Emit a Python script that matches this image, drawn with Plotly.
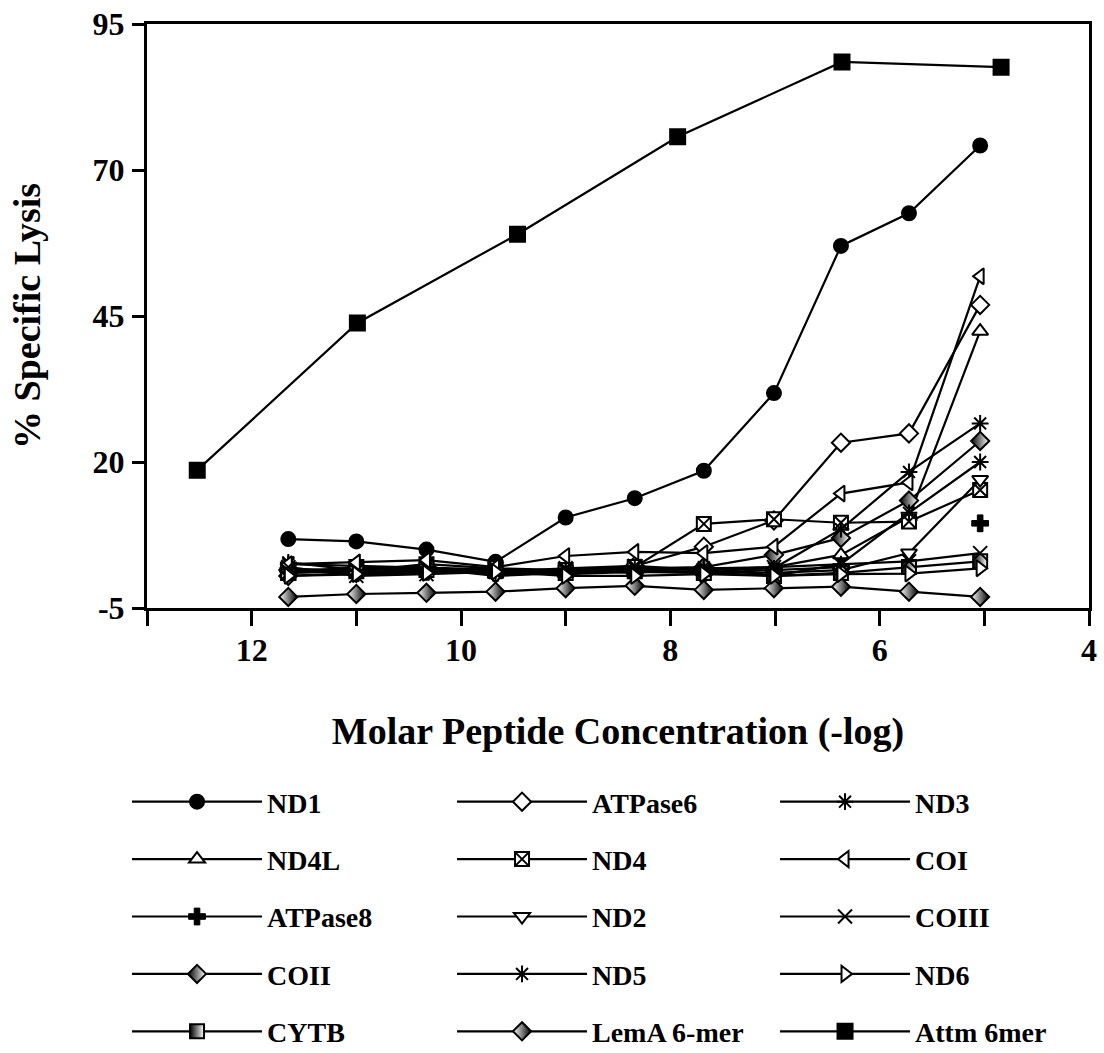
import plotly.graph_objects as go

# concentrations (-log M)
conc = [11.65, 11.0, 10.33, 9.67, 9.0, 8.34, 7.68, 7.01, 6.37, 5.72, 5.04]
conc_attm = [12.52, 10.99, 9.46, 7.93, 6.36, 4.84]

nd1     = [6.8, 6.4, 5.0, 2.9, 10.5, 13.8, 18.5, 31.8, 57.0, 62.6, 74.2]
atpase6 = [1.5, 1.8, 2.0, 1.0, 1.2, 2.2, 5.5, 10.0, 23.3, 24.9, 46.9]
nd3     = [2.5, 2.2, 1.8, 1.5, 1.3, 1.8, 1.5, 1.8, 8.5, 18.3, 26.6]
nd4l    = [1.8, 1.2, 1.5, 0.8, 1.0, 1.5, 1.8, 2.0, 4.1, 10.6, 42.4]
nd4     = [1.0, 1.3, 2.5, 1.8, 1.5, 2.0, 9.4, 10.2, 9.6, 9.8, 15.2]
coi     = [2.5, 2.8, 3.2, 2.0, 3.9, 4.6, 4.4, 5.5, 14.6, 16.5, 51.8]
atpase8 = [1.5, 1.0, 1.2, 1.0, 0.8, 1.2, 1.0, 1.5, 2.0, None, 9.5]
nd2     = [1.0, 1.5, 1.8, 0.5, 1.0, 1.5, 1.2, 1.0, 1.5, 4.4, 17.0]
coiii   = [2.0, 0.5, 0.8, 1.2, 1.8, 2.2, 1.5, 2.0, 2.5, 3.0, 4.4]
coii    = [0.5, 1.0, 1.5, 1.3, 0.8, 1.8, 2.0, 4.1, 7.0, 13.4, 23.6]
nd5     = [2.8, 1.5, 2.0, 1.0, 1.5, 1.0, 2.0, 0.5, 2.5, 11.3, 20.0]
nd6     = [0.5, 0.8, 1.0, 1.2, 0.5, 0.5, 0.8, 0.5, 0.8, 0.9, 1.8]
cytb    = [1.0, 2.0, 1.5, 1.5, 1.0, 1.3, 1.0, 0.5, 1.0, 2.0, 3.0]
lema    = [-3.1, -2.6, -2.4, -2.2, -1.6, -1.2, -1.9, -1.6, -1.35, -2.2, -3.1]
attm    = [18.6, 43.8, 59.0, 75.7, 88.5, 87.6]

x_ticks = [13, 12, 11, 10, 9, 8, 7, 6, 5, 4]
x_ticktext = ["", "12", "", "10", "", "8", "", "6", "", "4"]
y_ticks = [-5, 20, 45, 70, 95]
y_ticktext = ["-5", "20", "45", "70", "95"]

FONT = "Liberation Serif"
BLACK = "#000000"

fig = go.Figure()

def add(name, x, y, symbol, color, legend, size=14, lw=2, gradient=None):
    marker = dict(symbol=symbol, size=size, color=color,
                  line=dict(color=BLACK, width=lw))
    if gradient:
        marker["gradient"] = gradient
    fig.add_trace(go.Scatter(
        x=x, y=y, name=name, mode="lines+markers",
        line=dict(color=BLACK, width=2.2),
        marker=marker, legend=legend, legendgroup=name,
        connectgaps=False,
    ))

# column 1
add("ND1", conc, nd1, "circle", BLACK, "legend")
add("ND4L", conc, nd4l, "triangle-up", "white", "legend")
add("ATPase8", conc, atpase8, "cross", BLACK, "legend", lw=1)
add("COII", conc, coii, "diamond", BLACK, "legend",
    gradient=dict(type="horizontal", color="white"))
add("CYTB", conc, cytb, "square", BLACK, "legend",
    gradient=dict(type="horizontal", color="white"))
# column 2
add("ATPase6", conc, atpase6, "diamond", "white", "legend2")
add("ND4", conc, nd4, "square-x", "white", "legend2")
add("ND2", conc, nd2, "triangle-down", "white", "legend2")
add("ND5", conc, nd5, "asterisk-open", BLACK, "legend2")
add("LemA 6-mer", conc, lema, "diamond", "white", "legend2",
    gradient=dict(type="horizontal", color=BLACK))
# column 3
add("ND3", conc, nd3, "asterisk-open", BLACK, "legend3")
add("COI", conc, coi, "triangle-left", "white", "legend3")
add("COIII", conc, coiii, "x-thin-open", BLACK, "legend3")
add("ND6", conc, nd6, "triangle-right", "white", "legend3")
add("Attm 6mer", conc_attm, attm, "square", BLACK, "legend3", size=15)

legend_common = dict(
    orientation="v", xanchor="left", yanchor="top", y=-0.2894,
    font=dict(family=FONT, size=28, color=BLACK, weight="bold"),
    tracegroupgap=18, itemwidth=130, bgcolor="rgba(0,0,0,0)",
    traceorder="grouped",
)

fig.update_layout(
    width=1104, height=1053,
    margin=dict(l=147, r=15, t=24, b=445, autoexpand=False),
    paper_bgcolor="white", plot_bgcolor="white",
    font=dict(family=FONT, color=BLACK),
    legend=dict(x=-0.0212, **legend_common),
    legend2=dict(x=0.3238, **legend_common),
    legend3=dict(x=0.6667, **legend_common),
    xaxis=dict(
        range=[13, 4], autorange=False,
        tickmode="array", tickvals=x_ticks, ticktext=x_ticktext,
        ticks="outside", ticklen=15, tickwidth=2.5, tickcolor=BLACK,
        ticklabelstandoff=-3, ticklabeloverflow="allow",
        showline=True, linewidth=3, linecolor=BLACK, mirror=True,
        showgrid=False, zeroline=False,
        tickfont=dict(family=FONT, size=32, color=BLACK, weight="bold"),
        title=dict(text="Molar Peptide Concentration (-log)",
                   font=dict(family=FONT, size=38, color=BLACK, weight="bold"),
                   standoff=50),
    ),
    yaxis=dict(
        range=[-5, 95], autorange=False,
        tickmode="array", tickvals=y_ticks, ticktext=y_ticktext,
        ticks="outside", ticklen=12, tickwidth=2.5, tickcolor=BLACK,
        ticklabelstandoff=1, ticklabeloverflow="allow",
        showline=True, linewidth=3, linecolor=BLACK, mirror=True,
        showgrid=False, zeroline=False,
        tickfont=dict(family=FONT, size=32, color=BLACK, weight="bold"),
        title=dict(text="% Specific Lysis",
                   font=dict(family=FONT, size=38, color=BLACK, weight="bold"),
                   standoff=41),
    ),
)

fig.write_html("out.html", config={"displayModeBar": False},
               post_script="document.body.style.margin='0';")
